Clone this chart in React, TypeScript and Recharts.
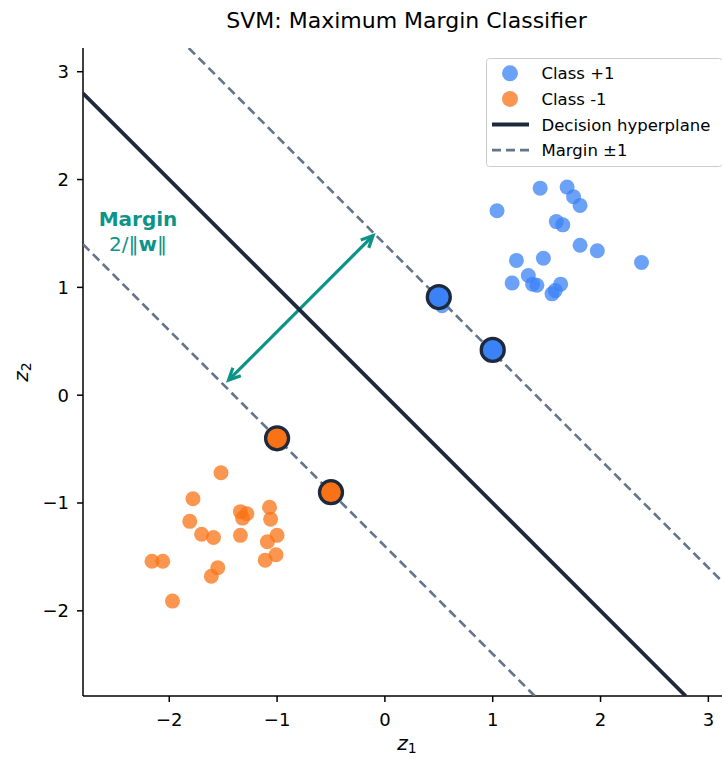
import React from "react";
import {
  ScatterChart,
  Scatter,
  XAxis,
  YAxis,
  ReferenceLine,
  ReferenceDot,
  Legend,
  Label,
} from "recharts";

const FONT = "'DejaVu Sans', 'Liberation Sans', sans-serif";
const BLUE = "#3b82f6";
const ORANGE = "#f97316";
const DARK = "#1e293b";
const SLATE = "#64748b";
const TEAL = "#0d9488";

// class +1 samples
const classPos = [
  { z1: 1.44, z2: 1.92 }, { z1: 1.69, z2: 1.93 }, { z1: 1.75, z2: 1.84 },
  { z1: 1.81, z2: 1.76 }, { z1: 1.04, z2: 1.71 }, { z1: 1.59, z2: 1.61 },
  { z1: 1.65, z2: 1.58 }, { z1: 1.81, z2: 1.39 }, { z1: 1.97, z2: 1.34 },
  { z1: 2.38, z2: 1.23 }, { z1: 1.22, z2: 1.25 }, { z1: 1.47, z2: 1.27 },
  { z1: 1.33, z2: 1.11 }, { z1: 1.18, z2: 1.04 }, { z1: 1.37, z2: 1.03 },
  { z1: 1.41, z2: 1.02 }, { z1: 1.63, z2: 1.03 }, { z1: 1.58, z2: 0.97 },
  { z1: 1.55, z2: 0.94 }, { z1: 0.53, z2: 0.83 },
];

// class -1 samples
const classNeg = [
  { z1: -1.52, z2: -0.72 }, { z1: -1.78, z2: -0.96 }, { z1: -1.81, z2: -1.17 },
  { z1: -1.70, z2: -1.29 }, { z1: -1.59, z2: -1.32 }, { z1: -1.34, z2: -1.08 },
  { z1: -1.28, z2: -1.10 }, { z1: -1.32, z2: -1.14 }, { z1: -1.07, z2: -1.04 },
  { z1: -1.06, z2: -1.15 }, { z1: -1.00, z2: -1.30 }, { z1: -1.09, z2: -1.36 },
  { z1: -1.34, z2: -1.30 }, { z1: -1.01, z2: -1.48 }, { z1: -1.11, z2: -1.53 },
  { z1: -2.16, z2: -1.54 }, { z1: -2.06, z2: -1.54 }, { z1: -1.55, z2: -1.60 },
  { z1: -1.61, z2: -1.68 }, { z1: -1.97, z2: -1.91 },
];

// support vectors
const svPos = [{ z1: 0.5, z2: 0.91 }, { z1: 1.0, z2: 0.42 }];
const svNeg = [{ z1: -1.0, z2: -0.4 }, { z1: -0.5, z2: -0.9 }];

// z1 + z2 = 0 and z1 + z2 = +-1.4
const hyperplane = [{ z1: -2.8, z2: 2.8 }, { z1: 2.79, z2: -2.79 }];
const marginUpper = [{ z1: -1.82, z2: 3.22 }, { z1: 3.21, z2: -1.81 }];
const marginLower = [{ z1: -2.8, z2: 1.4 }, { z1: 1.39, z2: -2.79 }];
const marginArrow = [{ x: -1.45, y: 0.14 }, { x: -0.11, y: 1.48 }];

const xTicks = [-2, -1, 0, 1, 2, 3];
const yTicks = [-2, -1, 0, 1, 2, 3];
const legendLabels = ["Class +1", "Class -1", "Decision hyperplane", "Margin \u00b11"];

const fmt = (v: number) => String(v).replace("-", "\u2212");

const dot = (color: string) => (p: any) => (
  <circle cx={p.cx} cy={p.cy} r={7.5} fill={color} fillOpacity={0.75} />
);
const svDot = (color: string) => (p: any) => (
  <circle cx={p.cx} cy={p.cy} r={11.5} fill={color} stroke={DARK} strokeWidth={3.3} />
);
const noDot = () => <g />;

const ArrowShape = (p: any) => {
  const { x1, y1, x2, y2 } = p;
  const ang = Math.atan2(y2 - y1, x2 - x1);
  const head = (x: number, y: number, a: number) => {
    const L = 13, w = 0.45;
    return `M${x + L * Math.cos(a + w)},${y + L * Math.sin(a + w)} L${x},${y} L${x + L * Math.cos(a - w)},${y + L * Math.sin(a - w)}`;
  };
  return (
    <g stroke={TEAL} strokeWidth={3.2} fill="none" strokeLinejoin="miter">
      <line x1={x1} y1={y1} x2={x2} y2={y2} />
      <path d={head(x1, y1, ang)} />
      <path d={head(x2, y2, ang + Math.PI)} />
    </g>
  );
};

const MarginText = (p: any) => (
  <g fontFamily={FONT} fontSize={20} fill={TEAL} textAnchor="middle">
    <text x={p.cx} y={p.cy - 11} fontWeight="bold">Margin</text>
    <text x={p.cx} y={p.cy + 14}>
      2/‖<tspan fontWeight="bold">w</tspan>‖
    </text>
  </g>
);

const XLabel = ({ viewBox }: any) => (
  <text x={viewBox.x + viewBox.width / 2} y={viewBox.y + 54} textAnchor="middle"
    fontFamily={FONT} fontSize={20} fill="#000">
    <tspan fontStyle="italic">z</tspan>
    <tspan fontSize={14} dy={3}>1</tspan>
  </text>
);

const YLabel = ({ viewBox }: any) => {
  const x = viewBox.x + 28;
  const y = viewBox.y + viewBox.height / 2;
  return (
    <text x={x} y={y} transform={`rotate(-90 ${x} ${y})`} textAnchor="middle"
      fontFamily={FONT} fontSize={20} fill="#000">
      <tspan fontStyle="italic">z</tspan>
      <tspan fontSize={14} dy={3}>2</tspan>
    </text>
  );
};

const LegendBox = () => (
  <svg width={237} height={109} style={{ display: "block" }}>
    <rect x={0.5} y={0.5} width={236} height={108} rx={3} fill="#fff" fillOpacity={0.8} stroke="#cccccc" />
    {legendLabels.map((label, i) => {
      const cy = 15.3 + i * 25.6;
      let marker;
      if (i === 0) marker = <circle cx={24} cy={cy} r={8} fill={BLUE} fillOpacity={0.75} />;
      else if (i === 1) marker = <circle cx={24} cy={cy} r={8} fill={ORANGE} fillOpacity={0.75} />;
      else if (i === 2) marker = <line x1={6} x2={43} y1={cy} y2={cy} stroke={DARK} strokeWidth={3.8} />;
      else marker = <line x1={6} x2={43} y1={cy} y2={cy} stroke={SLATE} strokeWidth={2.6} strokeDasharray="9 5" />;
      return (
        <g key={label}>
          {marker}
          <text x={55.5} y={cy + 6} fontFamily={FONT} fontSize={16.5} fill="#000">{label}</text>
        </g>
      );
    })}
  </svg>
);

export default function App() {
  return (
    <div style={{ position: "fixed", left: 0, top: 0, width: 722, height: 758, overflow: "hidden", background: "#fff" }}>
      <div style={{ position: "absolute", left: 0, top: 9.7, width: 813, textAlign: "center",
        fontFamily: FONT, fontSize: 22, lineHeight: "22px", color: "#000" }}>
        SVM: Maximum Margin Classifier
      </div>
      <ScatterChart width={740} height={758} margin={{ top: 48, right: 9, bottom: 0, left: 0 }}>
        <XAxis type="number" dataKey="z1" domain={[-2.8, 3.21]} ticks={xTicks} allowDataOverflow
          tickFormatter={fmt} height={62} tickSize={6} tickMargin={11}
          tick={{ fontSize: 18, fill: "#000", fontFamily: FONT }}
          axisLine={{ stroke: "#000", strokeWidth: 1.5 }} tickLine={{ stroke: "#000", strokeWidth: 1.5 }}>
          <Label content={<XLabel />} />
        </XAxis>
        <YAxis type="number" dataKey="z2" domain={[-2.79, 3.22]} ticks={yTicks} allowDataOverflow
          tickFormatter={fmt} width={83} tickSize={6} tickMargin={8}
          tick={{ fontSize: 18, fill: "#000", fontFamily: FONT }}
          axisLine={{ stroke: "#000", strokeWidth: 1.5 }} tickLine={{ stroke: "#000", strokeWidth: 1.5 }}>
          <Label content={<YLabel />} />
        </YAxis>

        <Scatter data={marginUpper} shape={noDot} line={{ stroke: SLATE, strokeWidth: 2.6, strokeDasharray: "9 5" }}
          legendType="none" isAnimationActive={false} />
        <Scatter data={marginLower} shape={noDot} line={{ stroke: SLATE, strokeWidth: 2.6, strokeDasharray: "9 5" }}
          legendType="none" isAnimationActive={false} />
        <Scatter data={hyperplane} shape={noDot} line={{ stroke: DARK, strokeWidth: 3.8 }}
          legendType="none" isAnimationActive={false} />

        <ReferenceLine segment={marginArrow} shape={ArrowShape} />
        <ReferenceDot x={-2.29} y={1.467} r={0} shape={MarginText} />

        <Scatter name="Class +1" data={classPos} shape={dot(BLUE)} isAnimationActive={false} />
        <Scatter name="Class -1" data={classNeg} shape={dot(ORANGE)} isAnimationActive={false} />
        <Scatter data={svPos} shape={svDot(BLUE)} legendType="none" isAnimationActive={false} />
        <Scatter data={svNeg} shape={svDot(ORANGE)} legendType="none" isAnimationActive={false} />

        <Legend layout="horizontal" verticalAlign="middle" align="center" content={<LegendBox />}
          wrapperStyle={{ left: 486, top: 58, width: 237, height: 109 }} />
      </ScatterChart>
    </div>
  );
}
